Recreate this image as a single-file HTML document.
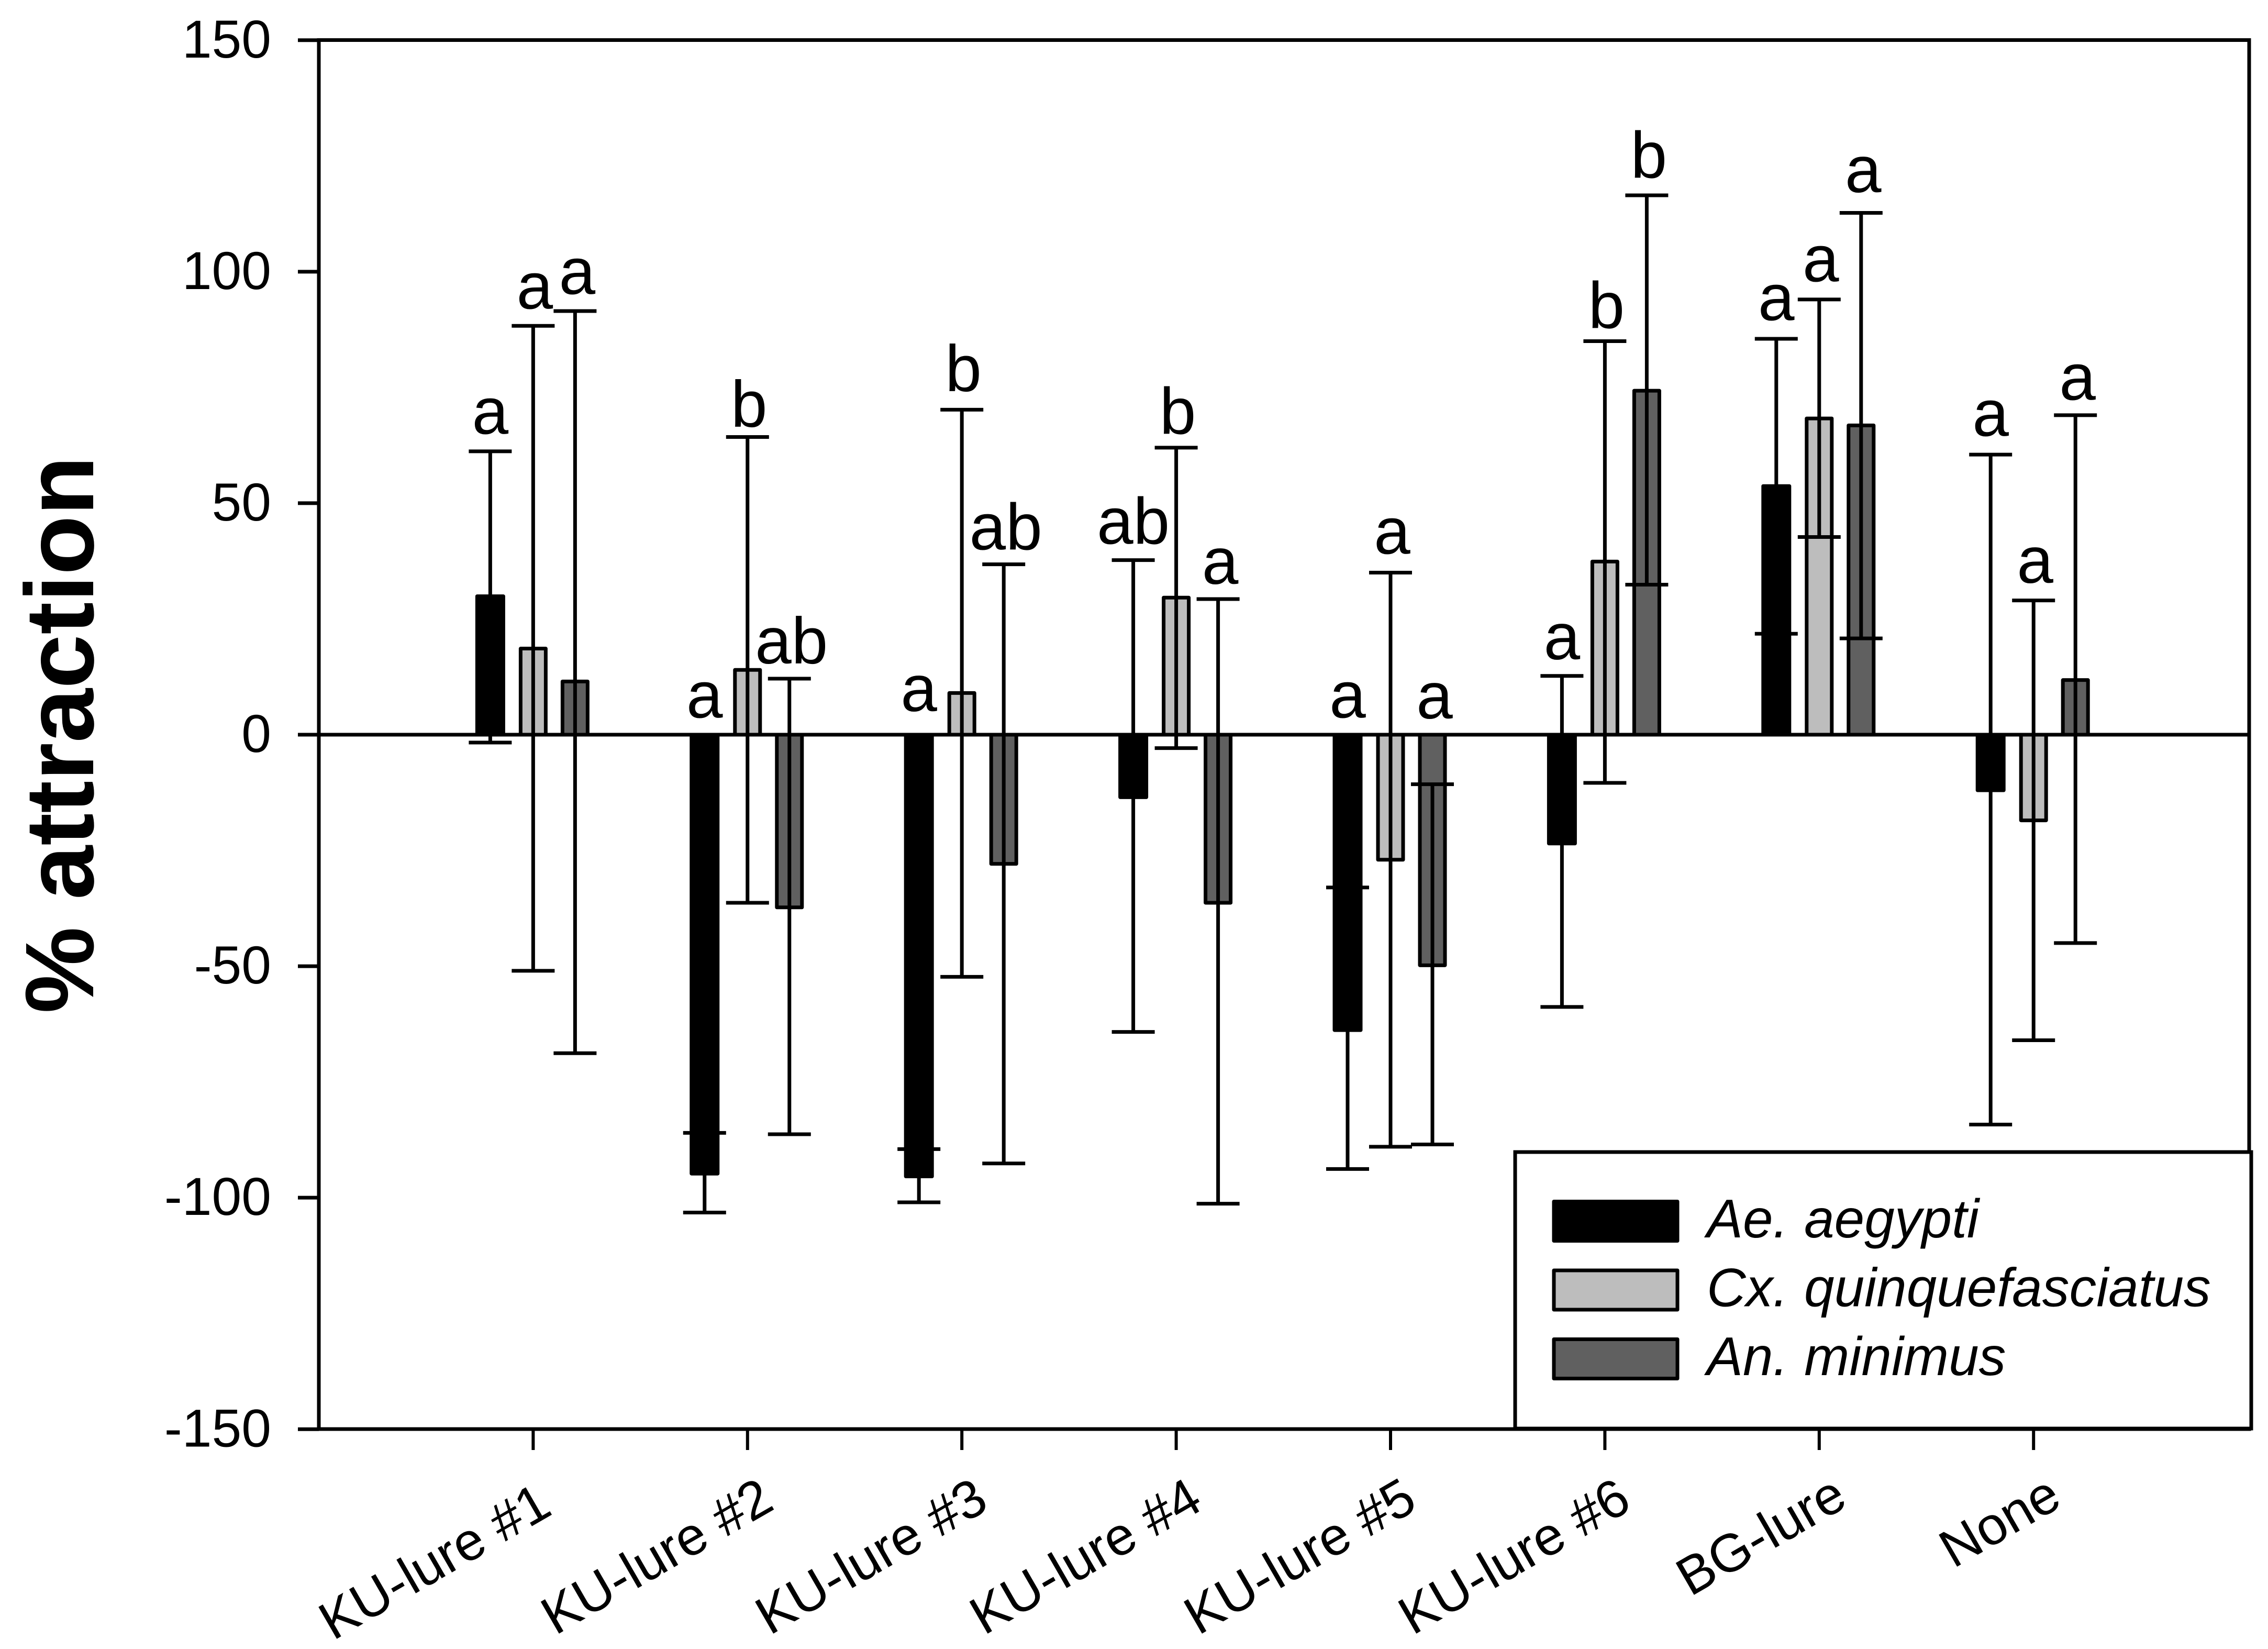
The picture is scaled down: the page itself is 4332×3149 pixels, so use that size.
<!DOCTYPE html>
<html lang="en">
<head>
<meta charset="utf-8">
<title>% attraction by lure and mosquito species</title>
<style>
html,body{margin:0;padding:0;background:#fff;width:4332px;height:3149px;overflow:hidden}
svg{display:block}
text{font-family:"Liberation Sans",Arial,sans-serif;fill:#000}
</style>
</head>
<body>
<svg id="chart" xmlns="http://www.w3.org/2000/svg" width="4332" height="3149" viewBox="0 0 4332 3149"></svg>
<script>
const categories = ["KU-lure #1","KU-lure #2","KU-lure #3","KU-lure #4","KU-lure #5","KU-lure #6","BG-lure","None"];
const yTicks = [150,100,50,0,-50,-100,-150];
const seriesNames = ["Ae. aegypti","Cx. quinquefasciatus","An. minimus"];

const aeMean  = [29.9,-94.8,-95.4,-13.5,-63.8,-23.5,53.7,-12];
const aeUpper = [61.2,-86,-89.5,37.7,-33,12.7,85.5,60.5];
const aeLower = [-1.7,-103.2,-101,-64.2,-93.8,-58.8,21.8,-84.2];
const aeLetters = ["a","a","a","ab","a","a","a","a"];
const aeLetterAt = [65,3.7,5.1,41.2,3.7,16.3,89.5,64.5];

const cxMean  = [18.6,14,9,29.6,-27,37.4,68.3,-18.5];
const cxUpper = [88.3,64.3,70.2,62,35,85,94,29];
const cxLower = [-51,-36.3,-52.3,-2.9,-89,-10.4,42.7,-66];
const cxLetters = ["a","b","b","b","a","b","a","a"];
const cxLetterAt = [92,66.5,74.2,65,39.1,87.8,97.9,32.8];

const anMean  = [11.5,-37.3,-27.9,-36.3,-49.8,74.3,66.8,11.8];
const anUpper = [91.5,12.1,36.8,29.3,-10.7,116.5,112.7,69];
const anLower = [-68.8,-86.3,-92.6,-101.3,-88.5,32.4,20.8,-45];
const anLetters = ["a","ab","ab","a","a","b","a","a"];
const anLetterAt = [95.2,15.4,40,32.6,3.5,120.3,117.2,72.3];

const NS = "http://www.w3.org/2000/svg";
const svg = document.getElementById("chart");
const left = 609, right = 4296, top_ = 76.5, bottom = 2729;
const firstTick = 1018.4, tickStep = 409.4;
const y = v => 1403 + (0 - v) * (bottom - top_) / 300;
const x = i => firstTick + i * tickStep;

function make(tag, attrs, parent){
  const el = document.createElementNS(NS, tag);
  for (const k in attrs) el.setAttribute(k, attrs[k]);
  (parent || svg).appendChild(el);
  return el;
}
function seg(x1,y1,x2,y2,w,parent){
  return make("line",{x1,y1,x2,y2,stroke:"#000","stroke-width":w},parent);
}

/* plot frame */
const frame = make("rect",{x:left,y:top_,width:right-left,height:bottom-top_,fill:"#fff",stroke:"#000","stroke-width":7});



/* y axis */
const yAxis = make("g",{});


yTicks.forEach(t => {
  const tk = seg(569,y(t),left,y(t),7,yAxis);
  
  
  const lb = make("text",{x:518,y:y(t)+33,"text-anchor":"end","font-size":102},yAxis);
  lb.textContent = t;
  
  
});
const yTitle = make("text",{transform:"translate(178 1403) rotate(-90)","text-anchor":"middle","font-size":186,"font-weight":"bold"});
yTitle.textContent = "% attraction";



/* x axis */
const xAxis = make("g",{});


categories.forEach((c,i) => {
  const tk = seg(x(i),bottom,x(i),2769,6,xAxis);
  
  
  const long = c.length >= 10;
  const first = i === 0;
  const ax = x(i) + (first ? 40 : long ? 55 : 58);
  const ay = first ? 2890 : long ? 2880 : 2874;
  const lb = make("text",{transform:`translate(${ax} ${ay}) rotate(-30)`,"text-anchor":"end","font-size":102},xAxis);
  lb.textContent = c;
  
  
});

/* series */
const series = [
  {mean:aeMean,up:aeUpper,lo:aeLower,letters:aeLetters,at:aeLetterAt,fill:"#000",dx:-82,w:50,ldx:0,name:"ae-aegypti"},
  {mean:cxMean,up:cxUpper,lo:cxLower,letters:cxLetters,at:cxLetterAt,fill:"#bdbdbd",dx:0,w:48,ldx:3,name:"cx-quinquefasciatus"},
  {mean:anMean,up:anUpper,lo:anLower,letters:anLetters,at:anLetterAt,fill:"#606060",dx:80,w:48,ldx:4,name:"an-minimus"}
];
series.forEach(s => {
  const g = make("g",{});
  
  
  s.mean.forEach((m,i) => {
    const cx = x(i) + s.dx;
    const bar = make("rect",{x:cx-s.w/2,y:Math.min(y(m),y(0)),width:s.w,height:Math.abs(y(m)-y(0)),fill:s.fill,stroke:"#000","stroke-width":7,"stroke-linejoin":"round"},g);
    
    
  });
});

/* zero line */
const zero = seg(left,y(0),right,y(0),7);



/* error bars and letters */
series.forEach(s => {
  const g = make("g",{});
  
  
  s.mean.forEach((m,i) => {
    const cx = x(i) + s.dx;
    const stem = seg(cx,y(s.up[i]),cx,y(s.lo[i]),7,g);
    
    
    const capU = seg(cx-41,y(s.up[i]),cx+41,y(s.up[i]),7,g);
    
    
    const capL = seg(cx-41,y(s.lo[i]),cx+41,y(s.lo[i]),7,g);
    
    
    const lt = make("text",{x:cx+s.ldx,y:y(s.at[i]),"text-anchor":"middle","font-size":125},g);
    lt.textContent = s.letters[i];
    
    
  });
});

/* legend */
const legend = make("g",{});


const box = make("rect",{x:2894,y:2200,width:1406,height:528,fill:"#fff",stroke:"#000","stroke-width":7},legend);


const fills = ["#000","#bdbdbd","#606060"];
seriesNames.forEach((n,i) => {
  const ry = 2294.5 + i * 131.5;
  const sw = make("rect",{x:2968,y:ry,width:236,height:75,fill:fills[i],stroke:"#000","stroke-width":7,"stroke-linejoin":"round"},legend);
  
  
  const t = make("text",{x:3260,y:2363+i*131.5,"font-size":103.5,"font-style":"italic","word-spacing":2},legend);
  t.textContent = n;
  
  
});
</script>
</body>
</html>
